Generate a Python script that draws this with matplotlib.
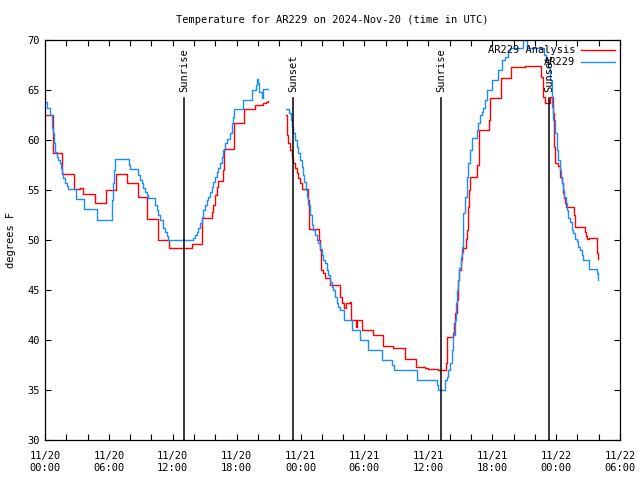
#Importing Libraries
import matplotlib
matplotlib.use('Agg')
import matplotlib.pyplot as plt
import numpy as np

#Time is hours since 11/20 00:00 UTC, temperatures in degrees F
#AR229 station, before the data gap
obs_hours_1 = [0.00, 0.22, 0.47, 0.63, 0.69, 0.72, 0.82, 0.94, 1.10, 1.25, 1.41, 1.50, 1.62, 1.72, 1.88,
               2.04, 2.19, 2.91, 3.69, 4.91, 6.26, 6.36, 6.48, 6.57, 7.92, 7.98, 8.76, 8.92, 9.08, 9.23,
               9.39, 9.55, 9.70, 10.33, 10.49, 10.64, 10.80, 11.11, 11.27, 11.43, 11.58, 13.93, 14.09,
               14.25, 14.40, 14.56, 14.72, 14.87, 15.03, 15.18, 15.34, 15.50, 15.65, 15.81, 15.97, 16.12,
               16.27, 16.43, 16.59, 16.74, 16.90, 17.06, 17.37, 17.53, 17.68, 17.78, 18.56, 19.41, 19.82,
               19.91, 20.01, 20.10, 20.38, 20.47, 20.94]
obs_temp_1 = [63.8, 63.2, 62.5, 61.8, 61.2, 60.7, 59.7, 58.8, 58.3, 58.0, 57.7, 57.2, 56.7, 56.2, 55.7,
              55.4, 55.1, 54.1, 53.1, 52.0, 54.0, 55.7, 57.0, 58.1, 57.5, 57.1, 56.5, 56.0, 55.7, 55.2,
              54.8, 54.5, 54.2, 53.5, 53.0, 52.5, 52.0, 51.2, 50.8, 50.4, 50.0, 50.2, 50.5,
              50.8, 51.2, 51.7, 52.3, 53.0, 53.5, 54.0, 54.3, 54.8, 55.3, 55.8, 56.3, 56.8,
              57.2, 57.7, 58.3, 59.0, 59.7, 60.1, 60.7, 61.7, 62.3, 63.1, 64.0, 65.0, 65.5,
              66.1, 65.7, 64.8, 64.2, 65.1, 65.1]

#AR229 station, after the data gap
obs_hours_2 = [22.63, 22.94, 23.07, 23.20, 23.32, 23.48, 23.64, 23.79, 23.95, 24.11, 24.26, 24.35, 24.48,
               24.58, 24.73, 24.89, 25.04, 25.20, 25.36, 25.51, 25.67, 25.83, 25.98, 26.13, 26.30, 26.45,
               26.61, 26.77, 26.92, 27.08, 27.23, 27.39, 27.55, 27.70, 28.11, 28.80, 29.58, 30.36, 31.62,
               32.56, 32.77, 34.93, 36.78, 36.94, 37.56, 37.72, 37.87, 38.03, 38.19, 38.34, 38.50, 38.60,
               38.72, 38.81, 38.91, 39.04, 39.13, 39.23, 39.28, 39.44, 39.60, 39.75, 39.91, 40.07, 40.54,
               40.69, 40.85, 41.01, 41.17, 41.32, 41.48, 41.95, 42.57, 42.89, 43.20, 43.51, 43.67, 44.92,
               45.29, 46.86, 47.05, 47.26, 47.42, 47.58, 47.73, 47.89, 48.05, 48.20, 48.36, 48.43,
               48.52, 48.61, 48.74, 48.90, 48.99, 49.14, 49.30, 49.46, 49.61, 49.77, 49.93, 50.08, 50.24,
               50.40, 50.49, 51.09, 51.81, 51.90]
obs_temp_2 = [63.1, 62.7, 62.0, 61.3, 60.7, 60.0, 59.3, 58.7, 58.0, 57.3, 56.5, 55.8, 55.0,
              54.3, 53.5, 52.5, 51.5, 51.0, 50.5, 50.0, 49.7, 49.1, 48.5, 48.0, 47.7, 47.0,
              46.5, 45.8, 45.3, 45.0, 44.3, 43.7, 43.3, 43.0, 42.0, 41.0, 40.0, 39.0, 38.0,
              37.5, 37.0, 36.0, 35.5, 35.0, 36.0, 36.3, 37.0, 37.7, 39.0, 40.5, 42.0, 43.7,
              45.0, 46.0, 47.2, 48.3, 49.3, 51.0, 52.7, 54.3, 56.3, 57.7, 59.0, 60.2, 61.0,
              61.7, 62.5, 62.8, 63.2, 64.0, 65.0, 66.0, 67.0, 68.0, 68.3, 69.0, 69.2, 70.0,
              69.2, 68.5, 68.0, 67.3, 66.0, 63.3, 62.0, 60.7, 59.0, 58.0, 57.0, 56.2,
              55.7, 55.0, 54.3, 53.7, 53.0, 52.2, 51.8, 51.0, 50.7, 50.1, 49.9, 49.3, 49.0,
              48.5, 48.0, 47.1, 46.7, 46.0]

#AR229 Analysis, before the data gap
ana_hours_1 = [0.00, 0.72, 1.64, 2.75, 3.29, 3.57, 4.70, 5.73, 6.67, 7.70, 8.71, 9.58, 10.61, 11.64,
               13.79, 14.77, 15.71, 15.81, 15.97, 16.12, 16.22, 16.74, 16.81, 17.75, 18.72, 19.72,
               20.50, 20.75, 20.97]
ana_temp_1 = [62.5, 58.7, 56.6, 55.1, 55.2, 54.6, 53.7, 55.0, 56.6, 55.7, 54.3, 52.1, 50.0, 49.2,
              49.6, 52.2, 52.8, 53.5, 54.5, 55.3, 55.9, 57.0, 59.1, 61.7, 63.1, 63.5,
              63.7, 63.8, 63.9]

#AR229 Analysis, after the data gap
ana_hours_2 = [22.63, 22.75, 22.85, 23.01, 23.16, 23.32, 23.48, 23.64, 23.79, 23.95, 24.11, 24.18, 24.67,
               24.76, 24.82, 25.76, 25.83, 25.92, 26.13, 26.30, 26.77, 27.70, 27.86, 28.08, 28.24, 28.64,
               28.71, 29.20, 29.33, 29.74, 30.77, 31.77, 32.71, 33.81, 34.81, 35.68, 35.94, 36.88, 37.66,
               37.72, 38.34, 38.43, 38.50, 38.66, 38.75, 38.81, 38.91, 39.04, 39.13, 39.23, 39.53, 39.60,
               39.69, 39.75, 39.81, 39.84, 39.91, 40.59, 40.78, 41.72, 41.78, 42.79, 43.73, 44.60, 45.07,
               46.55, 46.74, 46.79, 46.95, 47.42, 47.73, 47.79, 47.89, 48.20, 48.36, 48.52, 48.61, 48.67,
               48.74, 48.83, 48.93, 49.71, 49.77, 50.71, 50.80, 50.86, 51.09, 51.81, 51.87, 51.90]
ana_temp_2 = [62.5, 60.5, 59.7, 59.0, 58.3, 57.7, 57.2, 56.7, 56.2, 55.7, 55.2, 55.1, 54.0,
              52.1, 51.1, 50.0, 49.0, 47.0, 46.7, 46.2, 45.5, 44.3, 43.7, 43.2, 43.7, 43.8,
              42.0, 41.3, 42.0, 41.0, 40.5, 39.4, 39.2, 38.1, 37.3, 37.2, 37.1, 37.0, 37.7,
              40.3, 40.7, 41.7, 42.7, 44.0, 45.0, 46.0, 47.0, 48.0, 48.8, 49.2, 50.1, 51.0,
              52.0, 53.3, 54.7, 55.0, 56.3, 57.5, 61.0, 62.0, 64.2, 66.2, 67.3, 67.3, 67.4,
              66.3, 65.2, 64.3, 63.7, 64.3, 62.7, 59.3, 57.7, 57.4, 56.3, 55.7, 55.2, 54.7,
              54.2, 53.7, 53.3, 52.5, 51.3, 50.8, 50.4, 50.1, 50.2, 49.5, 48.7, 48.1]

#Sunrise and sunset times (hours)
sun_hours = [13.05, 23.29, 37.19, 47.33]
sun_labels = ['Sunrise', 'Sunset', 'Sunrise', 'Sunset']

#Tick labels every 6 hours
tick_hours = [0, 6, 12, 18, 24, 30, 36, 42, 48, 54]
tick_labels = ['11/20\n00:00', '11/20\n06:00', '11/20\n12:00', '11/20\n18:00', '11/21\n00:00',
               '11/21\n06:00', '11/21\n12:00', '11/21\n18:00', '11/22\n00:00', '11/22\n06:00']

plt.rcParams['font.family'] = 'DejaVu Sans Mono'
plt.rcParams['font.size'] = 7.5

fig = plt.figure(figsize=(6.4, 4.8), dpi=100)
ax = fig.add_axes([45/640, 40/480, 575/640, 400/480])

red = '#ff0000'
blue = '#1a8cff'

#Plotting the two series
ax.plot(ana_hours_1, ana_temp_1, color=red, lw=1.0, drawstyle='steps-post', label='AR229 Analysis')
ax.plot(ana_hours_2, ana_temp_2, color=red, lw=1.0, drawstyle='steps-post')
ax.plot(obs_hours_1, obs_temp_1, color=blue, lw=1.0, drawstyle='steps-post', label='AR229')
ax.plot(obs_hours_2, obs_temp_2, color=blue, lw=1.0, drawstyle='steps-post')

#Sunrise / sunset markers
for h, lab in zip(sun_hours, sun_labels):
    ax.plot([h, h], [30, 64.2], color='black', lw=1.1)
    ax.text(h, 64.8, lab, rotation=90, ha='center', va='bottom', fontsize=7.5)

ax.set_xlim(0, 54)
ax.set_ylim(30, 70)
ax.set_xticks(tick_hours)
ax.set_xticklabels(tick_labels)
ax.set_xticks(np.arange(0, 55, 2), minor=True)
ax.set_yticks(np.arange(30, 71, 5))
ax.tick_params(which='both', direction='in', top=True, right=True, length=4, width=0.8)
ax.tick_params(axis='x', pad=8)
ax.set_ylabel('degrees F')
ax.yaxis.set_label_coords(-0.050, 0.5)

for s in ax.spines.values():
    s.set_linewidth(0.9)

# create title
ax.set_title('Temperature for AR229 on 2024-Nov-20 (time in UTC)', fontsize=7.5, pad=12)

#legend in upper right
leg = ax.legend(loc='upper right', frameon=False, markerfirst=False, handlelength=3.2,
                borderaxespad=0.1, labelspacing=0.2, handletextpad=0.6)
for t in leg.get_texts():
    t.set_ha('right')

#Save plot
plt.savefig('out.png', dpi=100)
